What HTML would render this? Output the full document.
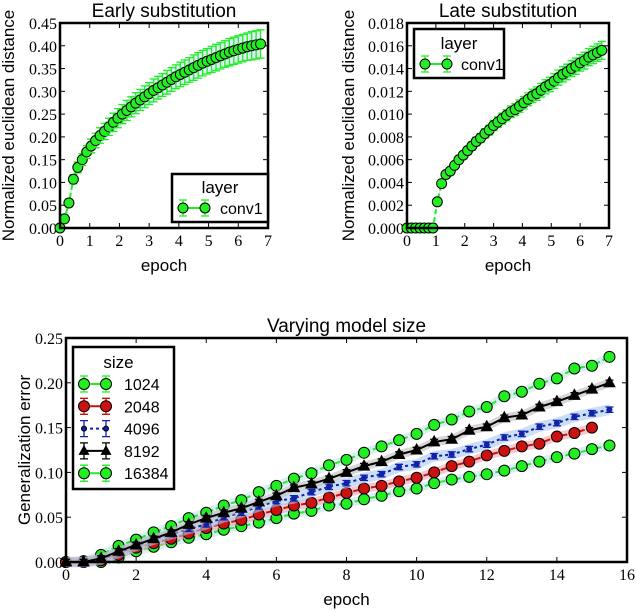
<!DOCTYPE html>
<html><head><meta charset="utf-8"><style>
body{margin:0;background:#fff;width:636px;height:612px;overflow:hidden}
svg{display:block}
.t{font-family:"Liberation Sans",sans-serif;fill:#000}
.tk{font-family:"Liberation Serif",serif;fill:#000}
</style></head><body>
<svg id="s" width="636" height="612" xmlns="http://www.w3.org/2000/svg"></svg>
<script>
// ---- data ----
const earlyX=[0,0.15,0.3,0.45,0.6,0.75,0.9,1.05,1.2,1.35,1.5,1.65,1.8,1.95,2.1,2.25,2.4,2.55,2.7,2.85,3.0,3.15,3.3,3.45,3.6,3.75,3.9,4.05,4.2,4.35,4.5,4.65,4.8,4.95,5.1,5.25,5.4,5.55,5.7,5.85,6.0,6.15,6.3,6.45,6.6,6.75];
const earlyY=[0,0.02,0.055,0.107,0.133,0.15,0.167,0.18,0.192,0.203,0.212,0.222,0.232,0.241,0.25,0.258,0.266,0.274,0.281,0.288,0.295,0.302,0.308,0.314,0.32,0.326,0.332,0.337,0.342,0.347,0.352,0.357,0.362,0.366,0.37,0.374,0.378,0.382,0.386,0.389,0.392,0.395,0.398,0.4,0.402,0.404];
const earlyErr=[0,0.004,0.008,0.01,0.012,0.013,0.014,0.015,0.016,0.017,0.018,0.019,0.02,0.021,0.021,0.022,0.022,0.023,0.023,0.024,0.024,0.025,0.025,0.025,0.026,0.026,0.026,0.027,0.027,0.027,0.028,0.028,0.028,0.028,0.029,0.029,0.029,0.029,0.03,0.03,0.03,0.03,0.03,0.031,0.031,0.031];
const lateX=[0,0.15,0.3,0.45,0.6,0.75,0.9,1.05,1.2,1.35,1.5,1.65,1.8,1.95,2.1,2.25,2.4,2.55,2.7,2.85,3.0,3.15,3.3,3.45,3.6,3.75,3.9,4.05,4.2,4.35,4.5,4.65,4.8,4.95,5.1,5.25,5.4,5.55,5.7,5.85,6.0,6.15,6.3,6.45,6.6,6.75];
const lateY=[0,0,0,0,0,0,0,0.0023,0.0039,0.0047,0.005,0.0055,0.006,0.0064,0.0068,0.0072,0.0076,0.0079,0.0083,0.0086,0.009,0.0093,0.0096,0.0099,0.0102,0.0104,0.0107,0.011,0.0113,0.0116,0.0118,0.0121,0.0124,0.0126,0.0129,0.0132,0.0135,0.0137,0.014,0.0142,0.0145,0.0147,0.015,0.0152,0.0154,0.0156];
const sizeX=[0,0.5,1,1.5,2,2.5,3,3.5,4,4.5,5,5.5,6,6.5,7,7.5,8,8.5,9,9.5,10,10.5,11,11.5,12,12.5,13,13.5,14,14.5,15,15.5];
const s1024=[0,0.001,0.008,0.018,0.025,0.033,0.04,0.049,0.055,0.063,0.069,0.078,0.085,0.093,0.099,0.108,0.114,0.122,0.129,0.136,0.143,0.153,0.159,0.168,0.173,0.185,0.19,0.199,0.205,0.216,0.219,0.229];
const s2048=[0,0,0.002,0.008,0.016,0.021,0.026,0.032,0.038,0.043,0.047,0.053,0.058,0.063,0.066,0.072,0.077,0.082,0.085,0.09,0.094,0.1,0.107,0.112,0.119,0.124,0.129,0.132,0.14,0.144,0.15];
const s4096=[0,0,0.003,0.01,0.018,0.025,0.031,0.037,0.042,0.05,0.055,0.062,0.068,0.071,0.078,0.084,0.088,0.094,0.098,0.106,0.109,0.118,0.12,0.126,0.131,0.139,0.143,0.151,0.155,0.162,0.166,0.17];
const s8192=[0,0,0.004,0.012,0.019,0.026,0.033,0.042,0.049,0.055,0.06,0.067,0.074,0.083,0.087,0.093,0.1,0.107,0.112,0.12,0.125,0.134,0.137,0.147,0.151,0.161,0.164,0.173,0.179,0.186,0.193,0.2];
const s16384=[0,0,0,0.005,0.012,0.017,0.022,0.027,0.031,0.036,0.04,0.044,0.049,0.054,0.057,0.063,0.065,0.07,0.074,0.079,0.082,0.088,0.092,0.095,0.098,0.102,0.107,0.112,0.117,0.121,0.126,0.13];
const earlyYTicks=["0.00","0.05","0.10","0.15","0.20","0.25","0.30","0.35","0.40","0.45"];
const lateYTicks=["0.000","0.002","0.004","0.006","0.008","0.010","0.012","0.014","0.016","0.018"];
const sizeYTicks=["0.00","0.05","0.10","0.15","0.20","0.25"];
const topXTicks=[0,1,2,3,4,5,6,7];
const botXTicks=[0,2,4,6,8,10,12,14,16];

const S=document.getElementById('s');
const NS='http://www.w3.org/2000/svg';
function el(tag,attrs,parent){const e=document.createElementNS(NS,tag);for(const k in attrs)e.setAttribute(k,attrs[k]);(parent||S).appendChild(e);return e;}
function txt(x,y,s,cls,size,anchor,parent){const e=el('text',{x:x,y:y,class:cls,'font-size':size,'text-anchor':anchor||'middle'},parent);e.textContent=s;return e;}

function axes(name,L,R,T,B,xmax,ymax,xt,yt,title,ylab,ylabX){
  const g=el('g',{});
  
  
  const sx=v=>L+(v/xmax)*(R-L), sy=v=>B-(v/ymax)*(B-T);
  xt.forEach(v=>{const x=sx(v);el('line',{x1:x,x2:x,y1:B,y2:B-5,stroke:'#000'},g);el('line',{x1:x,x2:x,y1:T,y2:T+5,stroke:'#000'},g);
    const t=txt(x,B+18,String(v),'tk',16,'middle',g);});
  yt.forEach((s,i)=>{const y=sy(parseFloat(s));el('line',{x1:L,x2:L+5,y1:y,y2:y,stroke:'#000'},g);el('line',{x1:R,x2:R-5,y1:y,y2:y,stroke:'#000'},g);
    const t=txt(L-3,y+6,s,'tk',16,'end',g);});
  const tt=txt((L+R)/2,T-6,title,'t',19,'middle',g);
  const xl=txt((L+R)/2,B+43,'epoch','t',17,'middle',g);
  const yl=txt(0,0,ylab,'t',17,'middle',g);yl.setAttribute('transform','translate('+ylabX+','+((T+B)/2)+') rotate(-90)');
  
  return {g,sx,sy,frame:()=>el('rect',{x:L,y:T,width:R-L,height:B-T,fill:'none',stroke:'#000','stroke-width':2.5},g)};
}
function series(ax,xs,ys,errs,color,edge,marker,r,dash,band,name){
  const g=el('g',{},ax.g);
  
  
  const n=Math.min(xs.length,ys.length);
  if(band){let up='',lo='';for(let i=0;i<n;i++){const e=errs?errs[i]:0;up+=(i?'L':'M')+ax.sx(xs[i])+','+ax.sy(ys[i]+e+0.002*band.s);}
    for(let i=n-1;i>=0;i--){const e=errs?errs[i]:0;lo+='L'+ax.sx(xs[i])+','+ax.sy(ys[i]-e-0.002*band.s);}
    el('path',{d:up+lo+'Z',fill:band.c,opacity:0.6},g);}
  let d='';for(let i=0;i<n;i++)d+=(i?'L':'M')+ax.sx(xs[i])+','+ax.sy(ys[i]);
  el('path',{d:d,fill:'none',stroke:color,'stroke-width':2,'stroke-dasharray':dash||'none'},g);
  for(let i=0;i<n;i++){
    const x=ax.sx(xs[i]),y=ax.sy(ys[i]);
    if(errs&&errs[i]>0){const y1=ax.sy(ys[i]+errs[i]),y2=ax.sy(ys[i]-errs[i]);
      el('path',{d:'M'+x+','+y1+'V'+y2+'M'+(x-4)+','+y1+'h8M'+(x-4)+','+y2+'h8',stroke:color,'stroke-width':1.3,fill:'none'},g);}
    let m;
    if(marker==='tri')m=el('path',{d:'M'+x+','+(y-6)+'L'+(x+5.5)+','+(y+4)+'L'+(x-5.5)+','+(y+4)+'Z',fill:color,stroke:edge},g);
    else m=el('circle',{cx:x,cy:y,r:r,fill:color,stroke:edge,'stroke-width':1},g);
    
    
  }
}
function legend(name,x,y,w,h,entries,parent){
  const g=el('g',{},parent);
  
  
  el('rect',{x:x,y:y,width:w,height:h,fill:'#fff',stroke:'#000','stroke-width':2.5},g);
  entries.title&&txt(x+w/2-(entries.tOff||0),y+entries.ty,entries.title,'t',17,'middle',g);
  entries.items.forEach((it,i)=>{
    const yy=y+entries.y0+i*entries.dy, x1=x+11,x2=x+33;
    const e=el('g',{},g);
    
    
    el('line',{x1:x1,x2:x2,y1:yy,y2:yy,stroke:it.c,'stroke-width':2,'stroke-dasharray':it.dash||'none'},e);
    [x1,x2].forEach(xx=>{el('path',{d:'M'+xx+','+(yy-8)+'V'+(yy+8)+'M'+(xx-4)+','+(yy-8)+'h8M'+(xx-4)+','+(yy+8)+'h8',stroke:it.c,'stroke-width':1.3},e);
      if(it.m==='tri')el('path',{d:'M'+xx+','+(yy-6)+'L'+(xx+5.5)+','+(yy+4)+'L'+(xx-5.5)+','+(yy+4)+'Z',fill:it.c},e);
      else el('circle',{cx:xx,cy:yy,r:it.r||5.5,fill:it.c,stroke:'#000'},e);});
    txt(x+entries.tx,yy+6,it.l,'t',16,'start',e);
  });
}
const G='#22ee22';
// early
const a1=axes('early-substitution-chart',60,268,23,228,7,0.45,topXTicks,earlyYTicks,'Early substitution','Normalized euclidean distance',14);
series(a1,earlyX,earlyY,earlyErr,G,'#000','c',5,'5,3',{c:'#bfe3ee',s:1},'series-conv1');
a1.frame();
legend('legend',172,174,96,48,{title:'layer',ty:19,tx:48,y0:34,dy:0,items:[{l:'conv1',c:G,r:5}]},a1.g);
// late
const lateErr=lateY.map(v=>v*0.05);
const a2=axes('late-substitution-chart',407,609,23,228,7,0.018,topXTicks,lateYTicks,'Late substitution','Normalized euclidean distance',354);
series(a2,lateX,lateY,lateErr,G,'#000','c',5,'5,3',{c:'#bfe3ee',s:0.05},'series-conv1');
a2.frame();
legend('legend',414,29,90,49,{title:'layer',ty:20,tx:47,y0:35,dy:0,items:[{l:'conv1',c:G,r:5}]},a2.g);
// bottom
const a3=axes('model-size-chart',66,627,338,562,16,0.25,botXTicks,sizeYTicks,'Varying model size','Generalization error',30);
series(a3,sizeX,s1024,s1024.map(()=>0.002),G,'#000','c',5.5,'5,3',{c:'#bfe3ee',s:1.5},'series-1024');
series(a3,sizeX,s16384,s16384.map(()=>0.002),G,'#000','c',5.5,'5,3',{c:'#bfe3ee',s:1.5},'series-16384');
series(a3,sizeX,s2048,s2048.map(()=>0.002),'#cc1111','#000','c',5.5,'6,3',{c:'#f4a0a8',s:1.5},'series-2048');
series(a3,sizeX,s4096,s4096.map(()=>0.003),'#1122aa','#1122aa','c',2.5,'3,3',{c:'#a8c8f0',s:1.5},'series-4096');
series(a3,sizeX,s8192,s8192.map(()=>0.003),'#000','#000','tri',0,null,{c:'#bbbbbb',s:1},'series-8192');
a3.frame();
legend('legend',73,347,101,142,{title:'size',ty:21,tx:51,y0:37,dy:22.3,tOff:5,items:[
 {l:'1024',c:G},{l:'2048',c:'#cc1111'},{l:'4096',c:'#1122aa',r:2.5,dash:'3,3'},{l:'8192',c:'#000',m:'tri'},{l:'16384',c:G}]},a3.g);
</script>
</body></html>
